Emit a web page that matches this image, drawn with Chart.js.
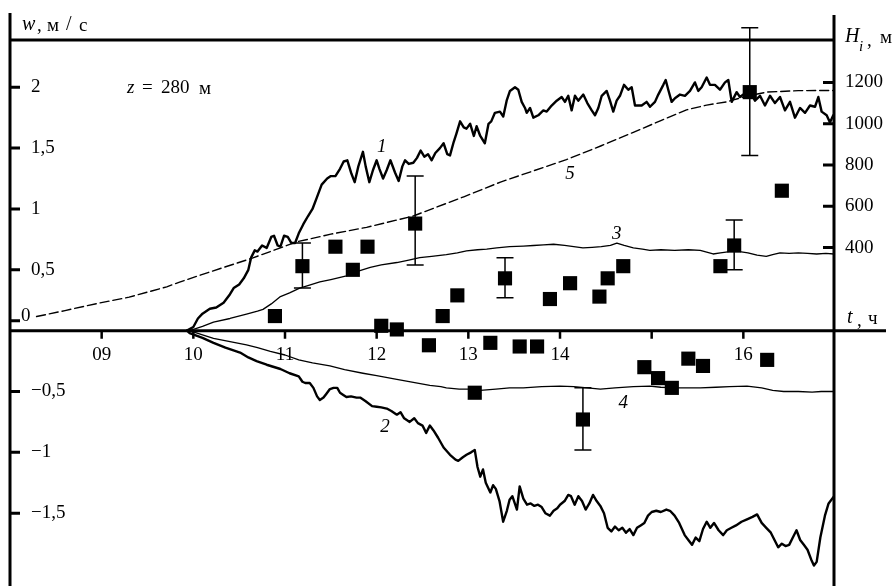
<!DOCTYPE html>
<html>
<head>
<meta charset="utf-8">
<script src="https://cdn.jsdelivr.net/npm/chart.js@4.4.1/dist/chart.umd.min.js"></script>
<style>
html,body{margin:0;padding:0;background:#fff;}
#c{display:block;}
</style>
</head>
<body>
<canvas id="c" width="896" height="586"></canvas>
<script>
// ---------- tick labels ----------
const timeTicks = [9, 10, 11, 12, 13, 14, 15, 16];
const timeTickLabels = ['09', '10', '11', '12', '13', '14', '', '16'];
const wTicks = [2, 1.5, 1, 0.5, 0, -0.5, -1, -1.5];
const wTickLabels = ['2', '1,5', '1', '0,5', '0', '\u22120,5', '\u22121', '\u22121,5'];
const hTicks = [1200, 1000, 800, 600, 400];
const hTickLabels = ['1200', '1000', '800', '600', '400'];

// ---------- curve 1 (w, m/s) ----------
const curve1T = [9.93,10.0,10.05,10.1,10.18,10.25,10.33,10.4,10.44,10.5,10.55,10.6,10.63,10.67,10.7,10.75,10.8,10.85,10.88,10.92,10.95,10.99,11.03,11.07,11.11,11.15,11.2,11.25,11.3,11.35,11.4,11.46,11.5,11.55,11.6,11.64,11.68,11.72,11.76,11.8,11.85,11.88,11.92,11.96,12.0,12.03,12.07,12.11,12.15,12.2,12.24,12.28,12.31,12.35,12.4,12.44,12.48,12.52,12.56,12.6,12.64,12.69,12.73,12.77,12.8,12.84,12.87,12.91,12.95,12.98,13.02,13.06,13.09,13.13,13.18,13.22,13.25,13.29,
  13.345,13.381,13.418,13.454,13.509,13.545,13.582,13.618,13.637,13.673,13.709,13.763,13.818,13.855,13.909,13.964,14.018,14.054,14.090,14.127,14.163,14.199,14.254,14.298,14.346,14.382,14.418,14.455,14.509,14.545,14.581,14.618,14.654,14.698,14.745,14.782,14.818,14.891,14.945,14.982,15.036,15.072,15.127,15.153,15.181,15.218,15.254,15.309,15.363,15.418,15.472,15.508,15.545,15.600,15.636,15.690,15.745,15.800,15.836,15.873,15.927,15.963,16.0,16.091,16.127,16.182,16.236,16.291,16.345,16.400,16.454,16.509,16.563,16.618,16.673,16.727,16.782,16.818,16.854,16.909,16.945,16.981];
const curve1W = [0,0.03,0.1,0.14,0.18,0.19,0.23,0.3,0.35,0.38,0.43,0.5,0.6,0.66,0.65,0.7,0.68,0.77,0.78,0.7,0.69,0.78,0.77,0.72,0.72,0.8,0.875,0.94,1.0,1.1,1.2,1.25,1.27,1.27,1.33,1.39,1.4,1.3,1.22,1.35,1.47,1.35,1.22,1.32,1.4,1.33,1.25,1.32,1.4,1.3,1.23,1.35,1.4,1.37,1.38,1.42,1.48,1.43,1.45,1.4,1.46,1.5,1.54,1.45,1.44,1.55,1.62,1.72,1.67,1.66,1.7,1.6,1.68,1.6,1.54,1.7,1.72,1.79,
  1.80,1.76,1.89,1.97,2.00,1.98,1.88,1.83,1.79,1.83,1.75,1.77,1.81,1.80,1.85,1.89,1.92,1.88,1.93,1.81,1.93,1.89,1.94,1.87,1.81,1.77,1.83,1.93,1.97,1.89,1.80,1.89,1.93,2.02,1.98,2.00,1.85,1.85,1.88,1.84,1.88,1.94,2.02,2.06,1.98,1.88,1.91,1.94,1.93,1.97,2.04,1.97,2.00,2.08,2.02,2.02,1.98,2.04,2.06,1.88,1.96,1.92,1.94,1.94,1.89,1.93,1.85,1.93,1.87,1.92,1.81,1.88,1.75,1.83,1.79,1.85,1.84,1.92,1.80,1.77,1.71,1.77];

// ---------- curve 2 (w, m/s) ----------
const curve2T = [9.93,9.96,10.1,10.22,10.35,10.51,10.6,10.69,10.8,10.95,11.05,11.15,11.19,11.22,11.27,11.31,11.35,11.38,11.42,11.45,11.49,11.53,11.57,11.6,11.64,11.67,11.72,11.78,11.82,11.88,11.95,12.0,12.05,12.11,12.16,12.22,12.26,12.3,12.36,12.41,12.45,12.5,12.54,12.58,12.62,12.67,12.73,12.8,12.86,12.89,12.94,12.98,13.03,13.07,13.1,13.13,13.16,13.19,13.24,13.27,13.3,13.34,13.38,13.42,13.45,13.48,13.53,13.56,13.6,13.64,13.68,13.72,13.76,13.8,13.84,13.89,13.93,13.97,14.0,14.05,14.09,14.12,14.16,14.2,14.24,14.28,14.32,14.36,14.4,14.44,14.48,14.52,14.56,14.6,14.64,14.68,14.72,14.76,14.8,14.84,14.88,14.92,14.96,15.0,15.05,15.1,15.16,15.2,15.25,15.3,15.36,15.4,15.44,15.48,15.52,15.56,15.6,15.64,15.68,15.73,15.78,15.82,15.87,15.92,15.98,16.04,16.1,16.15,16.2,16.25,16.3,16.34,16.38,16.42,16.46,16.5,16.54,16.58,16.62,16.66,16.7,16.74,16.77,16.8,16.84,16.89,16.93,16.99];
const curve2W = [0,-0.02,-0.06,-0.1,-0.14,-0.18,-0.22,-0.25,-0.28,-0.315,-0.35,-0.375,-0.42,-0.43,-0.43,-0.47,-0.54,-0.57,-0.55,-0.52,-0.48,-0.47,-0.47,-0.51,-0.53,-0.545,-0.54,-0.55,-0.55,-0.58,-0.62,-0.625,-0.63,-0.64,-0.66,-0.69,-0.67,-0.72,-0.75,-0.72,-0.76,-0.78,-0.84,-0.78,-0.82,-0.88,-0.96,-1.02,-1.06,-1.07,-1.04,-1.02,-1.0,-0.98,-1.12,-1.2,-1.14,-1.25,-1.33,-1.27,-1.3,-1.4,-1.57,-1.48,-1.39,-1.36,-1.47,-1.28,-1.38,-1.43,-1.42,-1.44,-1.43,-1.45,-1.5,-1.52,-1.48,-1.46,-1.43,-1.4,-1.35,-1.36,-1.43,-1.36,-1.4,-1.47,-1.42,-1.35,-1.4,-1.44,-1.5,-1.62,-1.65,-1.61,-1.64,-1.62,-1.66,-1.63,-1.68,-1.62,-1.6,-1.58,-1.52,-1.49,-1.48,-1.49,-1.47,-1.48,-1.52,-1.58,-1.68,-1.72,-1.76,-1.7,-1.73,-1.63,-1.57,-1.62,-1.58,-1.64,-1.68,-1.64,-1.62,-1.6,-1.57,-1.55,-1.53,-1.51,-1.58,-1.62,-1.66,-1.72,-1.78,-1.75,-1.77,-1.76,-1.7,-1.64,-1.72,-1.76,-1.8,-1.88,-1.93,-1.9,-1.7,-1.52,-1.42,-1.36];

// ---------- curve 3 (w, m/s) ----------
const curve3T = [9.93,9.96,10.1,10.22,10.4,10.58,10.7,10.76,10.85,10.95,11.05,11.16,11.25,11.38,11.5,11.67,11.8,11.93,12.05,12.22,12.35,12.47,12.6,12.76,12.88,12.98,13.1,13.2,13.31,13.45,13.6,13.71,13.82,13.93,14.05,14.15,14.25,14.35,14.45,14.55,14.62,14.7,14.8,14.9,14.98,15.1,15.25,15.4,15.53,15.6,15.67,15.75,15.85,15.96,16.05,16.15,16.25,16.32,16.4,16.5,16.6,16.7,16.8,16.9,16.99];
const curve3W = [0,0,0.035,0.07,0.1,0.135,0.16,0.175,0.22,0.28,0.31,0.35,0.37,0.4,0.42,0.45,0.49,0.52,0.54,0.56,0.58,0.6,0.61,0.625,0.64,0.656,0.665,0.67,0.68,0.69,0.695,0.7,0.705,0.71,0.7,0.69,0.68,0.685,0.69,0.7,0.72,0.7,0.68,0.67,0.66,0.665,0.66,0.665,0.66,0.645,0.63,0.64,0.65,0.65,0.64,0.62,0.61,0.625,0.64,0.635,0.64,0.635,0.63,0.635,0.63];

// ---------- curve 4 (w, m/s) ----------
const curve4T = [9.93,10.0,10.1,10.22,10.4,10.58,10.7,10.84,11.0,11.15,11.3,11.49,11.65,11.85,12.0,12.22,12.4,12.58,12.7,12.76,12.9,13.0,13.13,13.3,13.45,13.6,13.8,14.0,14.15,14.3,14.44,14.6,14.8,14.98,15.1,15.3,15.53,15.7,15.85,16.04,16.2,16.32,16.44,16.6,16.75,16.85,16.99];
const curve4W = [0,-0.01,-0.035,-0.063,-0.09,-0.117,-0.14,-0.17,-0.2,-0.24,-0.265,-0.29,-0.32,-0.35,-0.37,-0.4,-0.425,-0.45,-0.46,-0.47,-0.48,-0.48,-0.49,-0.48,-0.47,-0.47,-0.46,-0.455,-0.46,-0.47,-0.48,-0.47,-0.46,-0.455,-0.465,-0.47,-0.47,-0.465,-0.46,-0.455,-0.47,-0.49,-0.5,-0.5,-0.505,-0.5,-0.5];

// ---------- curve 5 (H_i, m) ----------
const curve5T = [8.29,8.6,8.98,9.3,9.71,9.85,10.2,10.65,11.13,11.5,11.89,12.4,12.95,13.35,13.7,14.07,14.45,14.8,15.1,15.38,15.6,15.82,16.05,16.26,16.6,16.99];
const curve5H = [66,95,132,160,210,233,285,350,428,465,498,553,646,717,770,826,893,958,1015,1067,1090,1106,1135,1153,1160,1161];

// ---------- observations (w, m/s) ----------
const obsT = [10.89,11.19,11.55,11.74,11.90,12.05,12.22,12.42,12.57,12.72,12.88,13.07,13.24,13.40,13.56,13.75,13.89,14.11,14.25,14.43,14.52,14.69,14.92,15.07,15.22,15.40,15.56,15.75,15.90,16.07,16.26,16.42];
const obsW = [0.12,0.53,0.69,0.50,0.69,0.04,0.01,0.88,-0.12,0.12,0.29,-0.51,-0.10,0.43,-0.13,-0.13,0.26,0.39,-0.73,0.28,0.43,0.53,-0.30,-0.39,-0.47,-0.23,-0.29,0.53,0.70,1.96,-0.24,1.15];

// ---------- error bars (w, m/s) ----------
const errT = [11.19, 12.42, 13.40, 14.25, 15.90, 16.07];
const errLo = [0.35, 0.54, 0.27, -0.98, 0.50, 1.44];
const errHi = [0.72, 1.27, 0.60, -0.47, 0.91, 2.49];

// ---------- curve labels ----------
const curveLabelText = ['1', '2', '3', '4', '5'];
const curveLabelT = [12.055, 12.09, 14.62, 14.69, 14.11];
const curveLabelW = [1.51, -0.79, 0.796, -0.598, 1.286];

// ---------- build ----------
const pts = (xs, ys) => xs.map((x, i) => ({ x: x, y: ys[i] }));
const SERIF = '"Liberation Serif", "DejaVu Serif", "Times New Roman", serif';
const TICKFONT = '19px ' + SERIF;

function txt(ctx, s, x, y, font, align) {
  ctx.font = font;
  ctx.textAlign = align || 'left';
  ctx.textBaseline = 'middle';
  ctx.fillText(s, x, y);
}

const errorBarPlugin = {
  id: 'errorBars',
  afterDatasetsDraw(chart) {
    const ctx = chart.ctx, xs = chart.scales.x, ys = chart.scales.y;
    ctx.save();
    ctx.strokeStyle = '#000';
    ctx.lineWidth = 1.5;
    const cap = 8.5;
    errT.forEach((t, i) => {
      const x = xs.getPixelForValue(t);
      const y1 = ys.getPixelForValue(errLo[i]);
      const y2 = ys.getPixelForValue(errHi[i]);
      ctx.beginPath();
      ctx.moveTo(x, y1); ctx.lineTo(x, y2);
      ctx.moveTo(x - cap, y1); ctx.lineTo(x + cap, y1);
      ctx.moveTo(x - cap, y2); ctx.lineTo(x + cap, y2);
      ctx.stroke();
    });
    ctx.restore();
  }
};

const axesPlugin = {
  id: 'sciAxes',
  afterDraw(chart) {
    const ctx = chart.ctx, xs = chart.scales.x, ys = chart.scales.y, hs = chart.scales.h;
    const area = chart.chartArea;
    const L = area.left, R = area.right;
    const y0 = ys.getPixelForValue(0);
    ctx.save();
    ctx.strokeStyle = '#000';
    ctx.fillStyle = '#000';
    ctx.lineCap = 'butt';
    ctx.lineWidth = 3;
    ctx.beginPath();
    ctx.moveTo(L, 13); ctx.lineTo(L, 586);
    ctx.moveTo(R, 15); ctx.lineTo(R, 586);
    ctx.moveTo(L, 40); ctx.lineTo(R, 40);
    ctx.moveTo(L, y0); ctx.lineTo(886, y0);
    ctx.stroke();

    // time ticks (downwards)
    ctx.lineWidth = 2.5;
    ctx.beginPath();
    timeTicks.forEach(t => {
      const x = xs.getPixelForValue(t);
      ctx.moveTo(x, y0); ctx.lineTo(x, y0 + 8);
    });
    ctx.stroke();
    timeTicks.forEach((t, i) => {
      txt(ctx, timeTickLabels[i], xs.getPixelForValue(t), y0 + 24, TICKFONT, 'center');
    });

    // w ticks (inside, left)
    ctx.lineWidth = 3;
    ctx.beginPath();
    wTicks.forEach(w => {
      const y = ys.getPixelForValue(w) - (w === 0 ? 10 : 0);
      ctx.moveTo(L, y); ctx.lineTo(L + 10, y);
    });
    ctx.stroke();
    wTicks.forEach((w, i) => {
      if (w === 0) {
        txt(ctx, wTickLabels[i], L + 11, ys.getPixelForValue(w) - 15, TICKFONT, 'left');
      } else {
        txt(ctx, wTickLabels[i], L + 21, ys.getPixelForValue(w), TICKFONT, 'left');
      }
    });

    // H ticks (inside, right)
    ctx.beginPath();
    hTicks.forEach(h => {
      const y = hs.getPixelForValue(h);
      ctx.moveTo(R - 11, y); ctx.lineTo(R, y);
    });
    ctx.stroke();
    hTicks.forEach((h, i) => {
      txt(ctx, hTickLabels[i], R + 11, hs.getPixelForValue(h), TICKFONT, 'left');
    });

    // axis titles
    txt(ctx, 'w', 22, 25, 'italic 20px ' + SERIF);
    txt(ctx, ',', 37, 26, '19px ' + SERIF);
    txt(ctx, 'м', 47, 26, '19px ' + SERIF);
    txt(ctx, '/', 66, 25, '20px ' + SERIF);
    txt(ctx, 'с', 79, 26, '19px ' + SERIF);

    txt(ctx, 'H', 845, 37, 'italic 20px ' + SERIF);
    txt(ctx, 'i', 859, 47, 'italic 15px ' + SERIF);
    txt(ctx, ',', 867, 41, '19px ' + SERIF);
    txt(ctx, 'м', 880, 38, '19px ' + SERIF);

    txt(ctx, 't', 847, 318, 'italic 20px ' + SERIF);
    txt(ctx, ',', 857, 321, '19px ' + SERIF);
    txt(ctx, 'ч', 868, 319, '19px ' + SERIF);

    txt(ctx, 'z', 127, 88, 'italic 19px ' + SERIF);
    txt(ctx, '=', 142, 88, '19px ' + SERIF);
    txt(ctx, '280', 161, 88, '19px ' + SERIF);
    txt(ctx, 'м', 199, 89, '19px ' + SERIF);

    // curve numbers
    curveLabelText.forEach((s, i) => {
      txt(ctx, s, xs.getPixelForValue(curveLabelT[i]), ys.getPixelForValue(curveLabelW[i]), 'italic 19px ' + SERIF, 'center');
    });
    ctx.restore();
  }
};

new Chart(document.getElementById('c'), {
  type: 'line',
  data: {
    datasets: [
      { label: '1', data: pts(curve1T, curve1W), borderColor: '#000', borderWidth: 2.4, yAxisID: 'y' },
      { label: '2', data: pts(curve2T, curve2W), borderColor: '#000', borderWidth: 2.4, yAxisID: 'y' },
      { label: '3', data: pts(curve3T, curve3W), borderColor: '#000', borderWidth: 1.3, yAxisID: 'y' },
      { label: '4', data: pts(curve4T, curve4W), borderColor: '#000', borderWidth: 1.3, yAxisID: 'y' },
      { label: '5', data: pts(curve5T, curve5H), borderColor: '#000', borderWidth: 1.4, borderDash: [9, 4], yAxisID: 'h' },
      { label: 'obs', data: pts(obsT, obsW), showLine: false, pointStyle: 'rect', pointRadius: 10, pointBackgroundColor: '#000', pointBorderWidth: 0, yAxisID: 'y' }
    ]
  },
  options: {
    responsive: false,
    devicePixelRatio: 1,
    animation: false,
    layout: { padding: { left: 10, right: 62, top: 0, bottom: 0 } },
    elements: { point: { radius: 0, hoverRadius: 0 }, line: { tension: 0, fill: false, borderCapStyle: 'round', borderJoinStyle: 'round' } },
    scales: {
      x: { type: 'linear', min: 8, max: 16.989, display: false },
      y: { type: 'linear', min: -2.016, max: 2.635, display: false },
      h: { type: 'linear', min: -1190.4, max: 1550.5, display: false, position: 'right' }
    },
    plugins: { legend: { display: false }, tooltip: { enabled: false } }
  },
  plugins: [errorBarPlugin, axesPlugin]
});
</script>
</body>
</html>
